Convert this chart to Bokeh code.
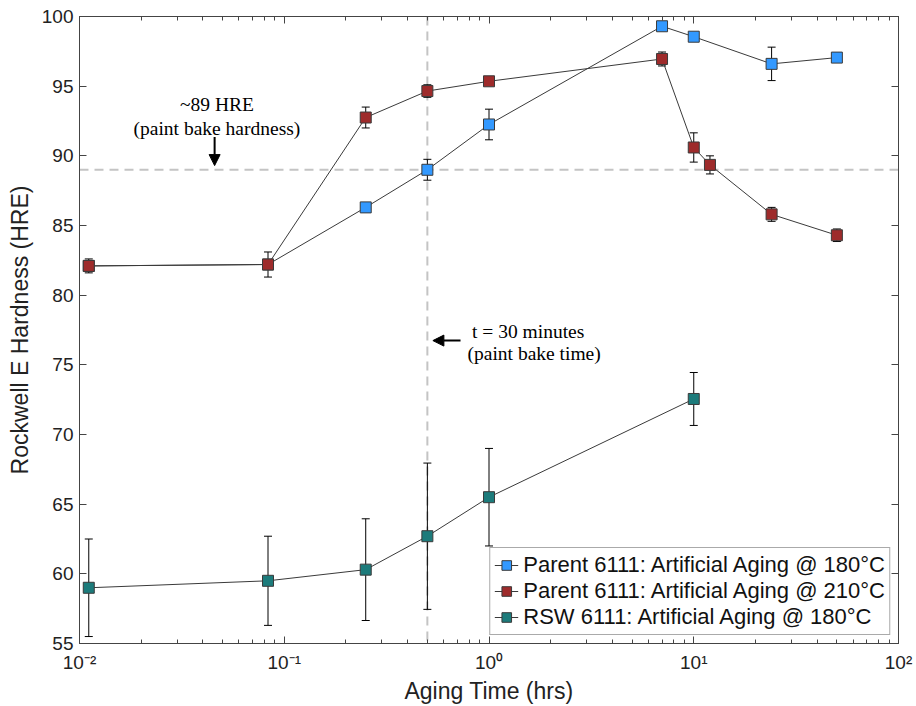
from bokeh.plotting import figure
from bokeh.models import (Range1d, FixedTicker, LogTicker, LinearAxis, LogAxis, Span, Arrow,
                          NormalHead, Label, Legend, LegendItem, Whisker, TeeHead,
                          ColumnDataSource, CustomJSTickFormatter, CustomLabelingPolicy)
from bokeh.embed import file_html
from bokeh.resources import INLINE

# ---------------- data ----------------
# Parent 180 °C series shares the as-quenched points with the 210 °C series
t_parent180 = [0.0111, 0.0833, 0.25, 0.5, 1, 7, 10, 24, 50]
h_parent180 = [82.1, 82.2, 86.3, 89.0, 92.25, 99.3, 98.55, 96.6, 97.05]
e_parent180 = [0.0, 0.0, 0.0, 0.75, 1.1, 0.0, 0.0, 1.2, 0.0]

t_parent210 = [0.0111, 0.0833, 0.25, 0.5, 1, 7, 10, 12, 24, 50]
h_parent210 = [82.1, 82.2, 92.75, 94.65, 95.35, 96.95, 90.6, 89.35, 85.8, 84.3]
e_parent210 = [0.5, 0.9, 0.75, 0.45, 0.2, 0.5, 1.05, 0.65, 0.5, 0.45]

t_rsw = [0.0111, 0.0833, 0.25, 0.5, 1, 10]
h_rsw = [59.0, 59.5, 60.3, 62.7, 65.5, 72.55]
e_rsw = [3.5, 3.2, 3.65, 5.25, 3.5, 1.9]

series_labels = ["Parent 6111: Artificial Aging @ 180°C",
                 "Parent 6111: Artificial Aging @ 210°C",
                 "RSW 6111: Artificial Aging @ 180°C"]
series_colors = ["#3399ff", "#9e2b2b", "#1c7b7b"]

x_ticks = [0.01, 0.1, 1, 10, 100]
x_tick_labels = ["10⁻²", "10⁻¹", "10⁰", "10¹", "10²"]
y_ticks = [55, 60, 65, 70, 75, 80, 85, 90, 95, 100]

paint_bake_hardness = 89
paint_bake_time = 0.5

FONT = "Liberation Sans"
SERIF = "Liberation Serif"
AXC = "#444444"

p = figure(width=916, height=706, x_axis_type="log",
           x_range=Range1d(0.01, 100), y_range=Range1d(55, 100),
           output_backend="svg", toolbar_location=None,
           min_border_left=79, min_border_right=18, min_border_top=16, min_border_bottom=63)
p.grid.visible = False
p.outline_line_color = None
p.background_fill_color = "white"
p.border_fill_color = "white"

xfmt = CustomJSTickFormatter(args=dict(tvals=x_ticks, tlabs=x_tick_labels), code="""
let best = 0, bd = 1e9;
for (let i = 0; i < tvals.length; i++) {
  const d = Math.abs(Math.log10(tvals[i]) - Math.log10(tick));
  if (d < bd) { bd = d; best = i; }
}
return tlabs[best];
""")

def style_axis(ax, show_labels=True, minor=True):
    ax.axis_line_color = AXC
    ax.major_tick_line_color = AXC
    ax.minor_tick_line_color = AXC if minor else None
    ax.major_tick_in = 7
    ax.major_tick_out = 0
    ax.minor_tick_in = 4
    ax.minor_tick_out = 0
    ax.major_label_text_font = FONT
    ax.major_label_text_color = "#222222"
    if show_labels:
        ax.major_label_text_font_size = "19px"
    else:
        ax.major_label_text_font_size = "0px"
        ax.major_label_standoff = 0
        ax.major_label_policy = CustomLabelingPolicy(code="return new Set()")

xa = p.xaxis[0]
xa.ticker = LogTicker(num_minor_ticks=10)
xa.formatter = xfmt
style_axis(xa)
xa.major_label_standoff = 8
xa.axis_label = "Aging Time (hrs)"
xa.axis_label_text_font = FONT
xa.axis_label_text_font_size = "23px"
xa.axis_label_text_font_style = "normal"
xa.axis_label_text_color = "#222222"
xa.axis_label_standoff = 2

ya = p.yaxis[0]
ya.ticker = FixedTicker(ticks=y_ticks)
style_axis(ya, minor=False)
ya.major_label_standoff = 6
ya.axis_label = "Rockwell E Hardness (HRE)"
ya.axis_label_text_font = FONT
ya.axis_label_text_font_size = "23px"
ya.axis_label_text_font_style = "normal"
ya.axis_label_text_color = "#222222"
ya.axis_label_standoff = 6

top = LogAxis(ticker=LogTicker(num_minor_ticks=10), formatter=xfmt)
style_axis(top, show_labels=False)
p.add_layout(top, "above")
right = LinearAxis(ticker=FixedTicker(ticks=y_ticks))
style_axis(right, show_labels=False, minor=False)
p.add_layout(right, "right")

# reference lines
hs = Span(location=paint_bake_hardness, dimension="width", line_color="#c4c4c4",
          line_width=2, line_dash="9 6", level="underlay")
vs = Span(location=paint_bake_time, dimension="height", line_color="#c4c4c4",
          line_width=2, line_dash="9 6", level="underlay")
p.add_layout(hs)
p.add_layout(vs)

series = [(t_parent180, h_parent180, e_parent180),
          (t_parent210, h_parent210, e_parent210),
          (t_rsw, h_rsw, e_rsw)]

items = []
for (t, h, e), lab, col in zip(series, series_labels, series_colors):
    ln = p.line(t, h, line_color="#3a3a3a", line_width=1)
    tt = [a for a, b in zip(t, e) if b > 0]
    up = [v + b for v, b in zip(h, e) if b > 0]
    lo = [v - b for v, b in zip(h, e) if b > 0]
    src = ColumnDataSource(dict(base=tt, upper=up, lower=lo))
    w = Whisker(source=src, base="base", upper="upper", lower="lower", dimension="height",
                line_color="black", line_width=1,
                upper_head=TeeHead(size=8, line_color="black", line_width=1),
                lower_head=TeeHead(size=8, line_color="black", line_width=1),
                level="underlay")
    p.add_layout(w)
    sc = p.scatter(t, h, marker="square", size=11, fill_color=col,
                   line_color="#3a3a3a", line_width=1)
    items.append(LegendItem(label=lab, renderers=[ln, sc]))

legend = Legend(items=items, location="bottom_right", margin=8, padding=4, spacing=0,
                label_text_font=FONT, label_text_font_size="22px", label_text_color="#111111",
                label_height=24, glyph_height=24, glyph_width=24, label_standoff=5,
                border_line_color="#555555", border_line_width=1,
                background_fill_color="white", background_fill_alpha=1)
p.add_layout(legend)

# annotations
p.add_layout(Label(x=0.0469, y=93.68, text="~89 HRE", text_font=SERIF, text_font_size="19.5px",
                   text_align="center", text_baseline="middle", text_color="black"))
p.add_layout(Label(x=0.0469, y=91.98, text="(paint bake hardness)", text_font=SERIF,
                   text_font_size="19.5px", text_align="center", text_baseline="middle",
                   text_color="black"))
p.add_layout(Arrow(x_start=0.0457, y_start=91.35, x_end=0.0457, y_end=89.3,
                   line_width=2, line_color="black",
                   end=NormalHead(size=11, fill_color="black", line_color="black")))

p.add_layout(Label(x=1.554, y=77.39, text="t = 30 minutes", text_font=SERIF, text_font_size="19.5px",
                   text_align="center", text_baseline="middle", text_color="black"))
p.add_layout(Label(x=1.661, y=75.81, text="(paint bake time)", text_font=SERIF,
                   text_font_size="19.5px", text_align="center", text_baseline="middle",
                   text_color="black"))
p.add_layout(Arrow(x_start=0.726, y_start=76.74, x_end=0.532, y_end=76.74,
                   line_width=2, line_color="black",
                   end=NormalHead(size=11, fill_color="black", line_color="black")))

open("out.html", "w").write(file_html(p, INLINE))
